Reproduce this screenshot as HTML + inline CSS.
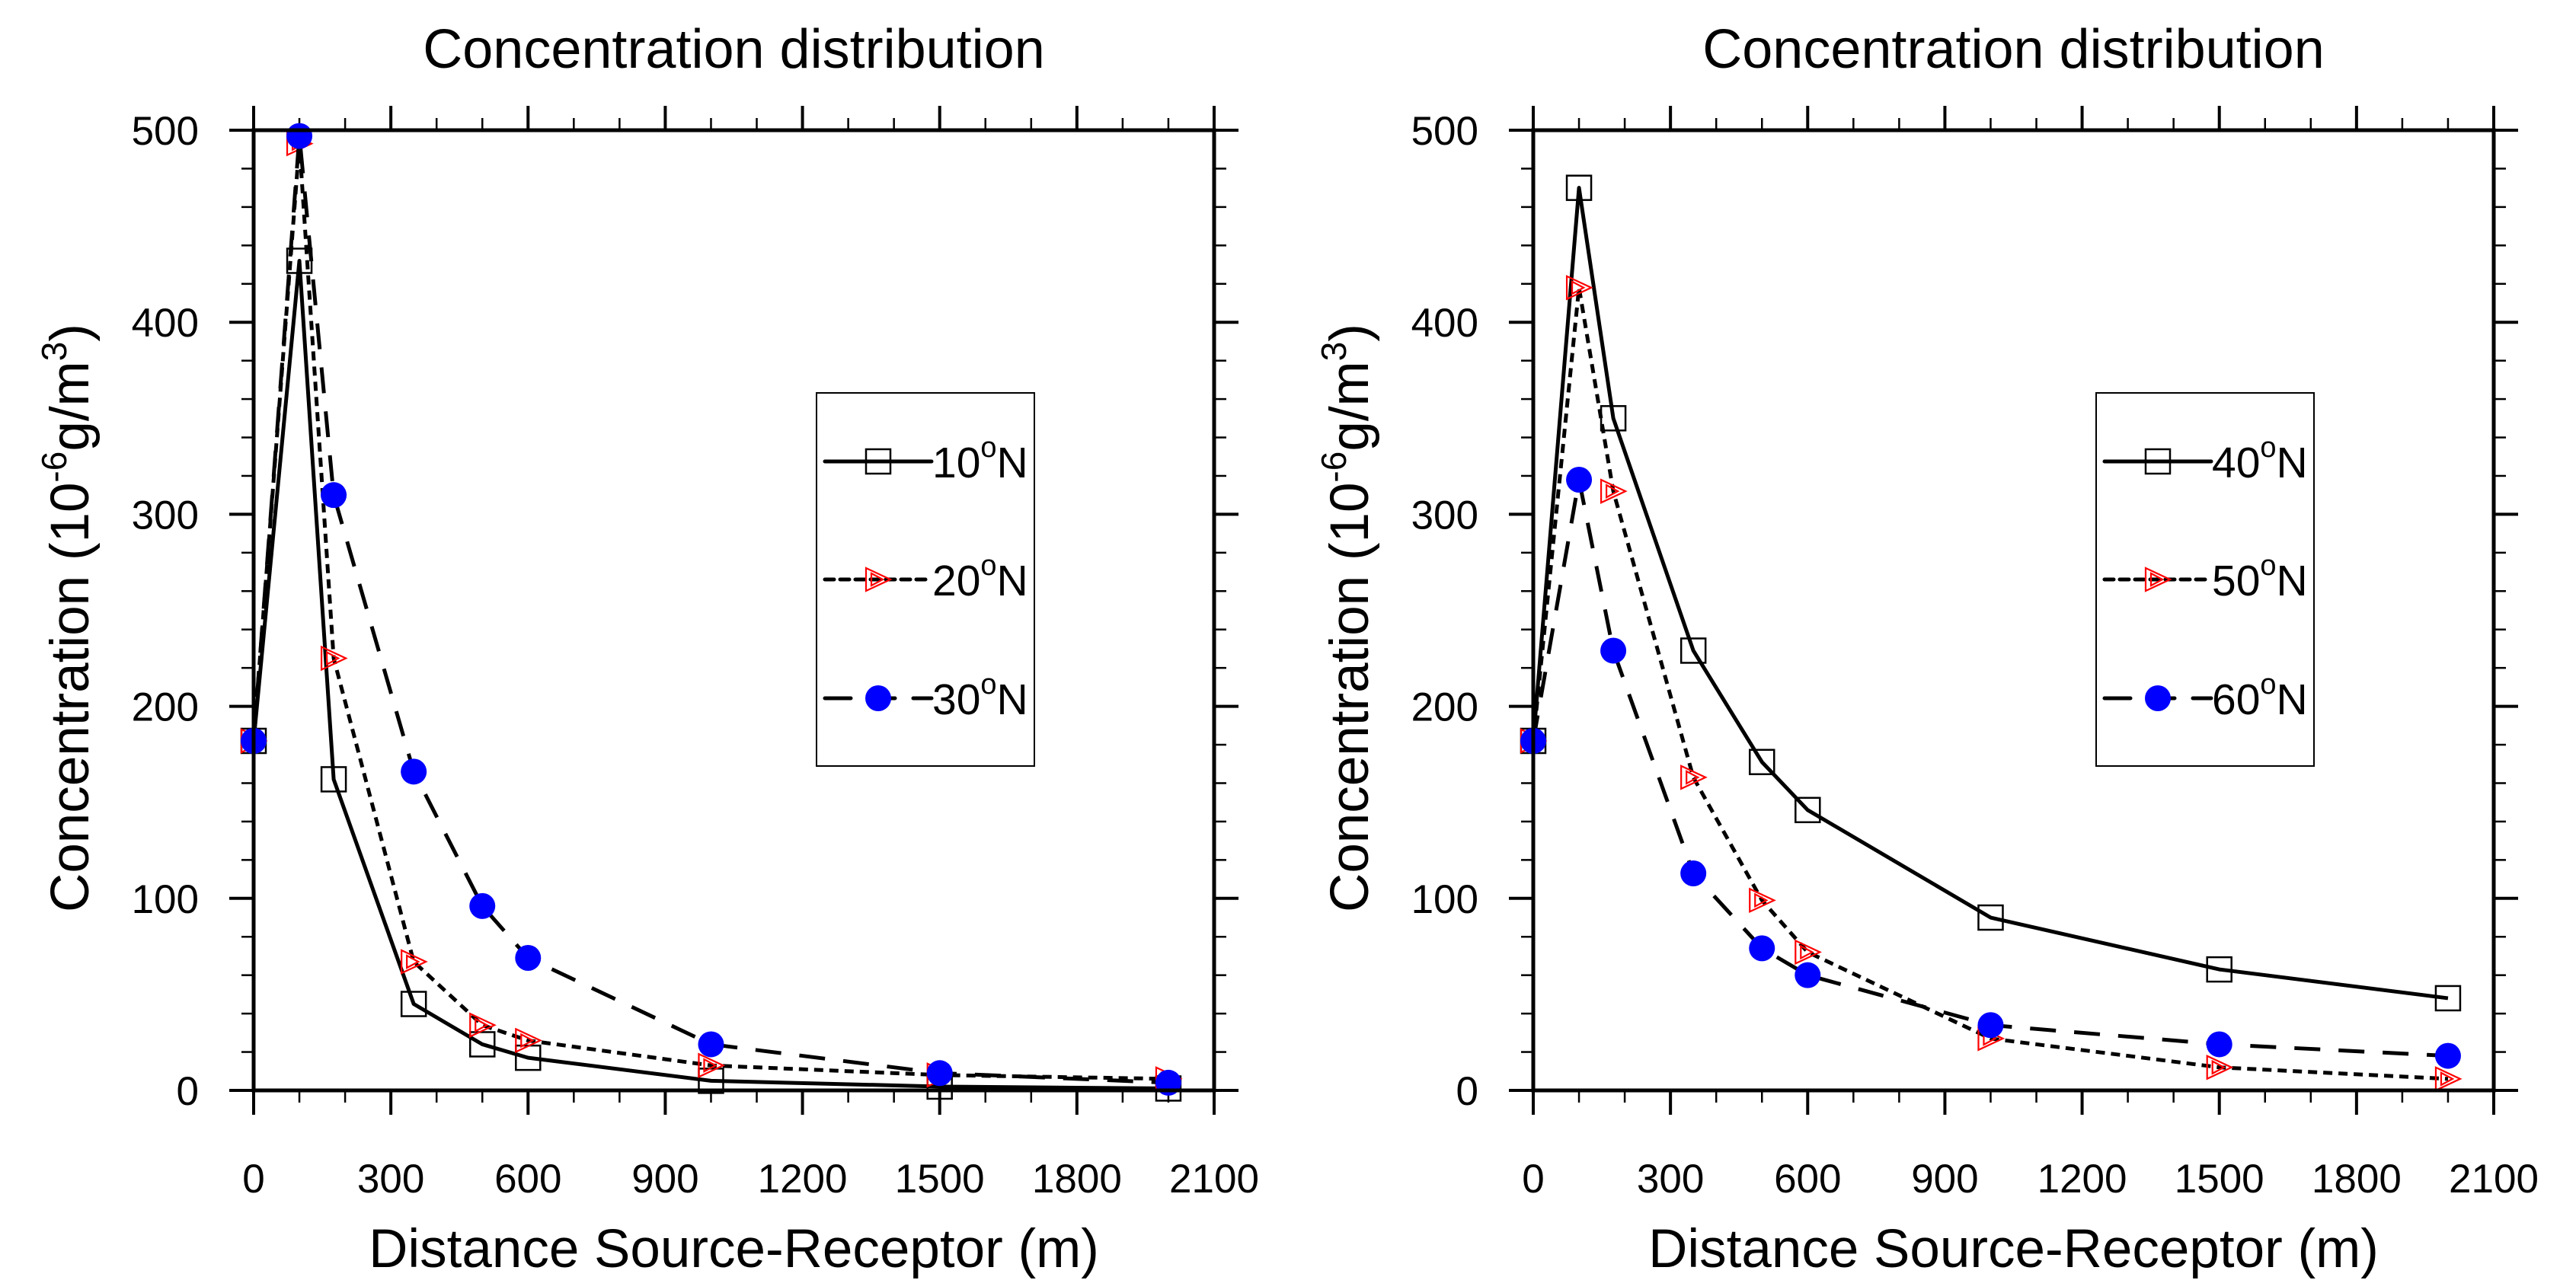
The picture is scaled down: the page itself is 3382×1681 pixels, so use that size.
<!DOCTYPE html>
<html><head><meta charset="utf-8"><style>
html,body{margin:0;padding:0;background:#fff}
svg{display:block}
text{font-family:"Liberation Sans",sans-serif;fill:#000}
</style></head><body>
<svg id="c" width="3382" height="1681" viewBox="0 0 3382 1681" xmlns="http://www.w3.org/2000/svg"></svg>
<script>
const xValues=[0,100,175,350,500,600,1000,1500,2000];
const leftNames=["10","20","-30"];
const rightNames=["40","50","-60"];
const s10=[182,432,162,45,24,17,5,2,1];
const s20=[182,493,225,67,34,26,13,8,6];
const s30=[182,497,310,166,96,69,24,9,4];
const s40=[182,470,350,229,171,146,90,63,48];
const s50=[182,418,312,163,99,72,27,12,6];
const s60=[182,318,229,113,74,60,34,24,18];
const xTicks=[0,300,600,900,1200,1500,1800,2100];
const yTicks=[0,100,200,300,400,500];

const NS="http://www.w3.org/2000/svg";
const svg=document.getElementById('c');
function mk(tag,attrs,parent){const e=document.createElementNS(NS,tag);for(const k in attrs)e.setAttribute(k,attrs[k]);(parent||svg).appendChild(e);return e;}
const styles=[
 {dash:"",marker:"square"},
 {dash:"12 8",marker:"tri"},
 {dash:"34 24",marker:"circle"}
];
function marker(g,type,x,y){
  if(type==="square"){const m=mk('rect',{x:x-16,y:y-16,width:32,height:32,fill:'none',stroke:'#000','stroke-width':2.5},g);}
  else if(type==="tri"){const m=mk('g',{},g);
    mk('polygon',{points:`${x-16},${y-15} ${x+16},${y} ${x-16},${y+15}`,fill:'none',stroke:'#f00','stroke-width':2.2},m);
    mk('polygon',{points:`${x-9},${y-8} ${x+6},${y} ${x-9},${y+8}`,fill:'none',stroke:'#f00','stroke-width':2.2},m);}
  else {const m=mk('circle',{cx:x,cy:y,r:17,fill:'#00f'},g);}
}
function panel(ox,series,names,id){
  const L=ox,R=ox+1261,T=171,B=1432;
  const X=v=>L+(v/2100)*(R-L), Y=v=>B-(v/500)*(B-T);
  const g=mk('g',{});
  const tt=mk('text',{x:(L+R)/2,y:89,'font-size':72,'text-anchor':'middle'},g);tt.textContent="Concentration distribution";
  
  const tg=mk('g',{stroke:'#000'},g);
  for(let v=0;v<=2100;v+=100){const x=X(v),maj=v%300===0,l=maj?32:16,w=maj?4:2.5;
    mk('line',{x1:x,y1:B,x2:x,y2:B+l,'stroke-width':w},tg);mk('line',{x1:x,y1:T,x2:x,y2:T-l,'stroke-width':w},tg);}
  for(let v=0;v<=500;v+=20){const y=Y(v),maj=v%100===0,l=maj?32:16,w=maj?4:2.5;
    mk('line',{x1:L,y1:y,x2:L-l,y2:y,'stroke-width':w},tg);mk('line',{x1:R,y1:y,x2:R+l,y2:y,'stroke-width':w},tg);}
  xTicks.forEach(v=>{const t=mk('text',{x:X(v),y:1566,'font-size':53,'text-anchor':'middle'},g);t.textContent=v;
    });
  yTicks.forEach(v=>{const t=mk('text',{x:L-72,y:Y(v)+19,'font-size':53,'text-anchor':'end'},g);t.textContent=v;
    });
  const xt=mk('text',{x:(L+R)/2,y:1664,'font-size':71,'text-anchor':'middle'},g);xt.textContent="Distance Source-Receptor (m)";
  
  const yt=mk('text',{x:0,y:0,'font-size':71,'text-anchor':'middle',transform:`translate(${L-217},${(T+B)/2+10}) rotate(-90)`},g);
  
  yt.innerHTML='Concentration (10<tspan font-size="46" dy="-29">-6</tspan><tspan dy="29">g/m</tspan><tspan font-size="46" dy="-29">3</tspan><tspan dy="29">)</tspan>';
  series.forEach((s,i)=>{const sg=mk('g',{},g);
    const pts=s.map((v,j)=>X(xValues[j])+','+Y(v)).join(' ');
    const pl=mk('polyline',{points:pts,fill:'none',stroke:'#000','stroke-width':5,'stroke-dasharray':styles[i].dash,'stroke-linejoin':'round'},sg);
    
    s.forEach((v,j)=>marker(sg,styles[i].marker,X(xValues[j]),Y(v)));});
  const fr=mk('rect',{x:L,y:T,width:R-L,height:B-T,fill:'none',stroke:'#000','stroke-width':5},g);
  
  const lg=mk('g',{},g);
  const lx=L+739;
  mk('rect',{x:lx,y:516,width:286,height:490,fill:'#fff',stroke:'#000','stroke-width':2},lg);
  [606,761,917].forEach((y,i)=>{const e=mk('g',{},lg);
    mk('line',{x1:lx+11,y1:y,x2:lx+151,y2:y,stroke:'#000','stroke-width':5,'stroke-dasharray':styles[i].dash,'stroke-linecap':'round'},e);
    marker(e,styles[i].marker,lx+81,y);
    const t=mk('text',{x:lx+152,y:y+21,'font-size':57},e);
    t.innerHTML=names[i].replace('-','')+'<tspan font-size="38" dy="-27">o</tspan><tspan dy="27">N</tspan>';});
}
panel(333,[s10,s20,s30],leftNames,'left');
panel(2013,[s40,s50,s60],rightNames,'right');
</script>
</body></html>
